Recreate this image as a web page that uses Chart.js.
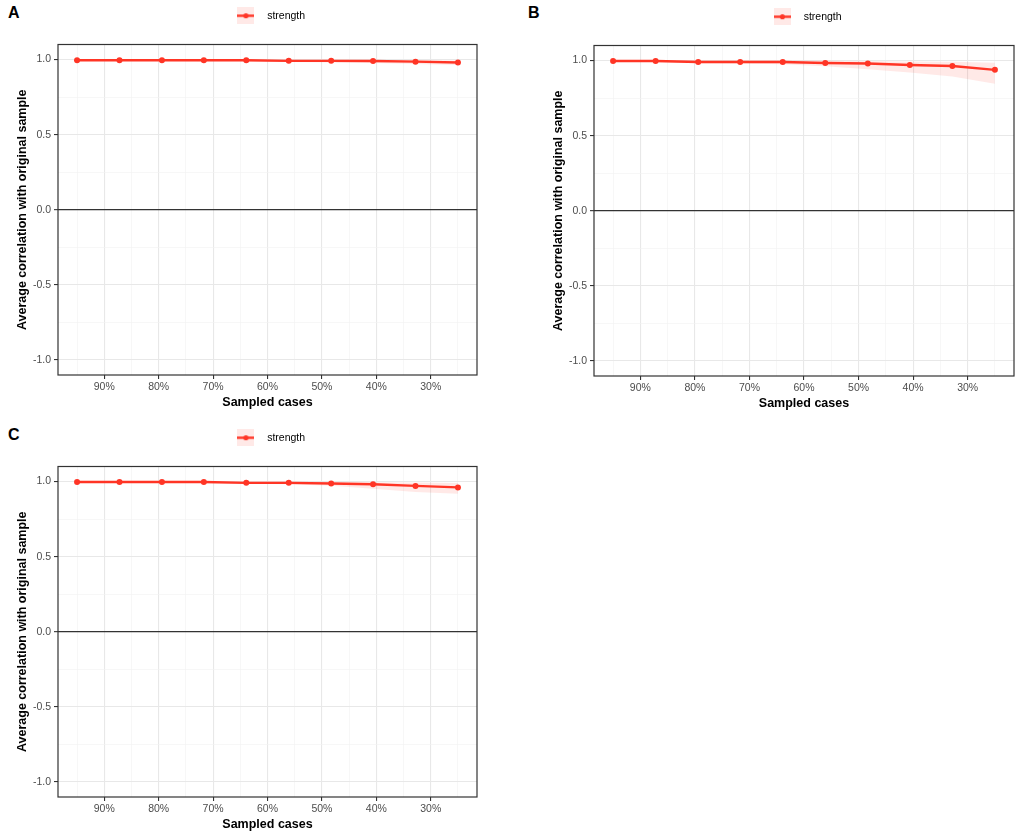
<!DOCTYPE html>
<html>
<head>
<meta charset="utf-8">
<script src="https://cdn.jsdelivr.net/npm/chart.js@4.4.1/dist/chart.umd.min.js"></script>
<style>
  html, body { margin: 0; padding: 0; background: #fff; overflow: hidden; }
  body { width: 1021px; height: 838px; position: relative; font-family: "Liberation Sans", Arial, sans-serif; }
  .panel { position: absolute; }
  .letter { position: absolute; font-weight: bold; font-size: 16px; line-height: 16px; color: #000; }
</style>
</head>
<body>
<div class="letter" style="left:8px; top:5px;">A</div>
<div class="letter" style="left:528px; top:5px;">B</div>
<div class="letter" style="left:8px; top:427px;">C</div>

<div class="panel" style="left:0px; top:0px;"><canvas id="chartA" width="540" height="420"></canvas></div>
<div class="panel" style="left:536px; top:1px;"><canvas id="chartB" width="485" height="420"></canvas></div>
<div class="panel" style="left:0px; top:422px;"><canvas id="chartC" width="540" height="420"></canvas></div>

<script>
// proportion of cases kept in each subsample
const sampledCases = [0.95, 0.872, 0.794, 0.717, 0.639, 0.561, 0.483, 0.406, 0.328, 0.25];

// A
const meanA  = [0.995, 0.995, 0.995, 0.995, 0.995, 0.991, 0.991, 0.990, 0.986, 0.980];
const lowerA = [0.990, 0.990, 0.990, 0.989, 0.988, 0.983, 0.980, 0.977, 0.970, 0.964];
const upperA = [1.000, 1.000, 1.000, 1.000, 0.999, 0.998, 0.998, 0.997, 0.996, 0.994];

// B
const meanB  = [0.997, 0.997, 0.990, 0.990, 0.990, 0.984, 0.980, 0.970, 0.964, 0.938];
const lowerB = [0.992, 0.990, 0.982, 0.980, 0.975, 0.962, 0.942, 0.920, 0.893, 0.846];
const upperB = [1.000, 1.000, 1.000, 1.000, 1.000, 0.998, 0.996, 0.994, 0.991, 0.986];

// C
const meanC  = [0.997, 0.997, 0.997, 0.997, 0.991, 0.991, 0.987, 0.982, 0.971, 0.961];
const lowerC = [0.992, 0.992, 0.991, 0.990, 0.985, 0.982, 0.972, 0.952, 0.930, 0.918];
const upperC = [1.000, 1.000, 1.000, 1.000, 0.998, 0.998, 0.997, 0.995, 0.993, 0.990];

const xTicks = [0.25, 0.3, 0.35, 0.4, 0.45, 0.5, 0.55, 0.6, 0.65, 0.7, 0.75, 0.8, 0.85, 0.9, 0.95];
const yTicks = [-1, -0.75, -0.5, -0.25, 0, 0.25, 0.5, 0.75, 1];
const seriesName = 'strength';

const lineColor = '#ff3526';
const ribbonColor = 'rgba(255, 53, 38, 0.11)';

Chart.defaults.font.family = '"Liberation Sans", Arial, sans-serif';

const isMajorX = v => Math.round(v * 100) % 10 === 0;
const isMajorY = v => Math.round(v * 100) % 50 === 0;

// legend key: ribbon square with line and point through it
const legendKey = document.createElement('canvas');
legendKey.width = 17;
legendKey.height = 17;
(function () {
    const k = legendKey.getContext('2d');
    k.fillStyle = ribbonColor;
    k.fillRect(0, 0, 17, 17);
    k.strokeStyle = lineColor;
    k.lineWidth = 2.4;
    k.beginPath();
    k.moveTo(0, 8.5);
    k.lineTo(17, 8.5);
    k.stroke();
    k.fillStyle = lineColor;
    k.beginPath();
    k.arc(8.5, 8.5, 2.6, 0, Math.PI * 2);
    k.fill();
})();

const panelBorder = {
    id: 'panelBorder',
    afterDraw(chart) {
        const a = chart.chartArea;
        const c = chart.ctx;
        c.save();
        c.strokeStyle = '#333333';
        c.lineWidth = 1.2;
        c.strokeRect(a.left, a.top, a.right - a.left, a.bottom - a.top);
        c.restore();
    }
};

function points(values) {
    return sampledCases.map((x, i) => ({ x: x, y: values[i] }));
}

function makeChart(id, mean, lower, upper, padRight) {
    new Chart(document.getElementById(id), {
        type: 'line',
        data: {
            datasets: [
                {
                    label: 'lower',
                    data: points(lower),
                    borderWidth: 0,
                    pointRadius: 0,
                    fill: false
                },
                {
                    label: 'upper',
                    data: points(upper),
                    borderWidth: 0,
                    pointRadius: 0,
                    backgroundColor: ribbonColor,
                    fill: '-1'
                },
                {
                    label: seriesName,
                    data: points(mean),
                    borderColor: lineColor,
                    backgroundColor: lineColor,
                    borderWidth: 2.4,
                    pointRadius: 3,
                    pointBorderWidth: 0,
                    pointBackgroundColor: lineColor,
                    tension: 0,
                    fill: false
                }
            ]
        },
        options: {
            responsive: false,
            animation: false,
            layout: { padding: { left: 10, right: padRight, top: 0, bottom: 0 } },
            plugins: {
                tooltip: { enabled: false },
                legend: {
                    position: 'top',
                    fullSize: false,
                    labels: {
                        usePointStyle: true,
                        pointStyle: legendKey,
                        pointStyleWidth: 32,
                        padding: 10.5,
                        color: '#000000',
                        font: { size: 10.5 },
                        filter: item => item.datasetIndex === 2
                    }
                },
                subtitle: {
                    display: true,
                    text: '',
                    weight: 500,
                    position: 'top',
                    font: { size: 1, lineHeight: 1 },
                    padding: { top: 12.5, bottom: 0 }
                }
            },
            scales: {
                x: {
                    type: 'linear',
                    reverse: true,
                    min: 0.215,
                    max: 0.985,
                    afterBuildTicks: s => { s.ticks = xTicks.map(v => ({ value: v })); },
                    afterFit: s => { s.height = 45; },
                    border: { display: false },
                    grid: {
                        color: c => isMajorX(c.tick.value) ? '#e8e8e8' : '#f2f2f2',
                        lineWidth: c => isMajorX(c.tick.value) ? 1.1 : 0.6,
                        tickColor: c => isMajorX(c.tick.value) ? '#333333' : 'rgba(0,0,0,0)',
                        tickWidth: 1.1,
                        tickLength: 4,
                        drawTicks: true
                    },
                    ticks: {
                        autoSkip: false,
                        maxRotation: 0,
                        padding: 2,
                        color: '#4d4d4d',
                        font: { size: 10.5 },
                        callback: v => isMajorX(v) ? Math.round(v * 100) + '%' : ''
                    },
                    title: {
                        display: true,
                        text: 'Sampled cases',
                        color: '#000000',
                        font: { size: 12.5, weight: 'bold' },
                        padding: { top: 0, bottom: 10 }
                    }
                },
                y: {
                    min: -1.1,
                    max: 1.1,
                    afterBuildTicks: s => { s.ticks = yTicks.map(v => ({ value: v })); },
                    afterFit: s => { s.width = 48; },
                    border: { display: false },
                    grid: {
                        color: c => c.tick.value === 0 ? '#333333' : (isMajorY(c.tick.value) ? '#e8e8e8' : '#f2f2f2'),
                        lineWidth: c => c.tick.value === 0 ? 1.3 : (isMajorY(c.tick.value) ? 1.1 : 0.6),
                        tickColor: c => isMajorY(c.tick.value) ? '#333333' : 'rgba(0,0,0,0)',
                        tickWidth: 1.1,
                        tickLength: 4,
                        drawTicks: true
                    },
                    ticks: {
                        autoSkip: false,
                        padding: 3,
                        color: '#4d4d4d',
                        font: { size: 10.5 },
                        callback: v => isMajorY(v) ? v.toFixed(1) : ''
                    },
                    title: {
                        display: true,
                        text: 'Average correlation with original sample',
                        color: '#000000',
                        font: { size: 12.5, weight: 'bold' },
                        padding: { top: 5, bottom: 0 }
                    }
                }
            }
        },
        plugins: [panelBorder]
    });
}

makeChart('chartA', meanA, lowerA, upperA, 63);
makeChart('chartB', meanB, lowerB, upperB, 7);
makeChart('chartC', meanC, lowerC, upperC, 63);
</script>
</body>
</html>
